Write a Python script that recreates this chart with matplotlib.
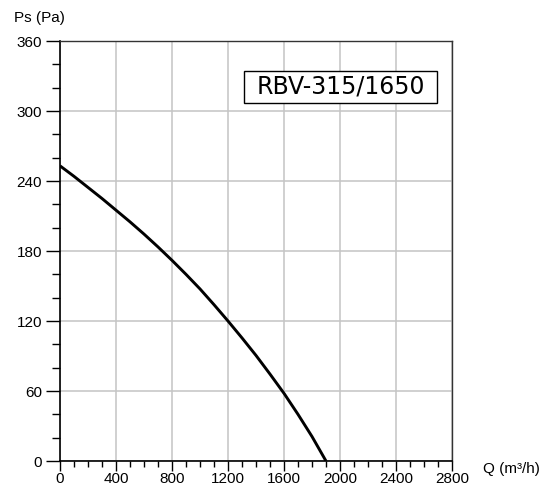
import numpy as np
import matplotlib
matplotlib.use("Agg")
import matplotlib.pyplot as plt
from matplotlib.ticker import MultipleLocator
from matplotlib.patches import Rectangle

# curve
flow = [0, 100, 200, 300, 400, 500, 600, 700, 800, 900, 1000, 1100,
        1200, 1300, 1400, 1500, 1600, 1700, 1800, 1900]
pressure = [253, 244, 234.5, 225, 215, 205, 194.5, 183.5, 172, 160, 147.5, 134,
            120, 105.5, 90.5, 74.5, 58, 40, 21, 0]

x_ticks = [0, 400, 800, 1200, 1600, 2000, 2400, 2800]
y_ticks = [0, 60, 120, 180, 240, 300, 360]
model = "RBV-315/1650"

plt.rcParams["font.family"] = ["Liberation Sans", "DejaVu Sans"]

fig = plt.figure(figsize=(5.5, 4.97), dpi=100)
ax = fig.add_axes([0.1091, 0.0724, 0.7127, 0.8451])

ax.plot(flow, pressure, color="black", linewidth=2.1, solid_capstyle="butt", zorder=3)

ax.set_xlim(0, 2800)
ax.set_ylim(0, 360)
ax.set_xticks(x_ticks)
ax.set_yticks(y_ticks)
ax.xaxis.set_minor_locator(MultipleLocator(100))
ax.yaxis.set_minor_locator(MultipleLocator(20))

ax.grid(True, which="major", color="#c4c4c4", linewidth=1.1, zorder=0)
ax.tick_params(axis="y", which="major", length=10, width=1.0, pad=3, labelsize=11)
ax.tick_params(axis="y", which="minor", length=6, width=1.0)
ax.tick_params(axis="x", which="major", length=7, width=1.0, pad=1, labelsize=11)
ax.tick_params(axis="x", which="minor", length=4.5, width=1.0)

for side in ["left", "bottom"]:
    ax.spines[side].set_linewidth(1.2)
for side in ["top", "right"]:
    ax.spines[side].set_linewidth(1.0)
    ax.spines[side].set_color("#333333")

fig.text(14 / 550, 1 - 18 / 497, "Ps (Pa)", fontsize=11, va="center", ha="left")
fig.text(483 / 550, 1 - 469 / 497, "Q (m\u00b3/h)", fontsize=11, va="center", ha="left")

# model name box, sized in data units
bx, by, bw, bh = 1314, 306.9, 1379, 27.4
ax.add_patch(Rectangle((bx, by), bw, bh, facecolor="white", edgecolor="black",
                       linewidth=1.0, zorder=4))
ax.text(bx + bw / 2, by + bh / 2, model, fontsize=17, ha="center", va="center",
        family="DejaVu Sans", zorder=5)

fig.savefig("out.png", dpi=100)
